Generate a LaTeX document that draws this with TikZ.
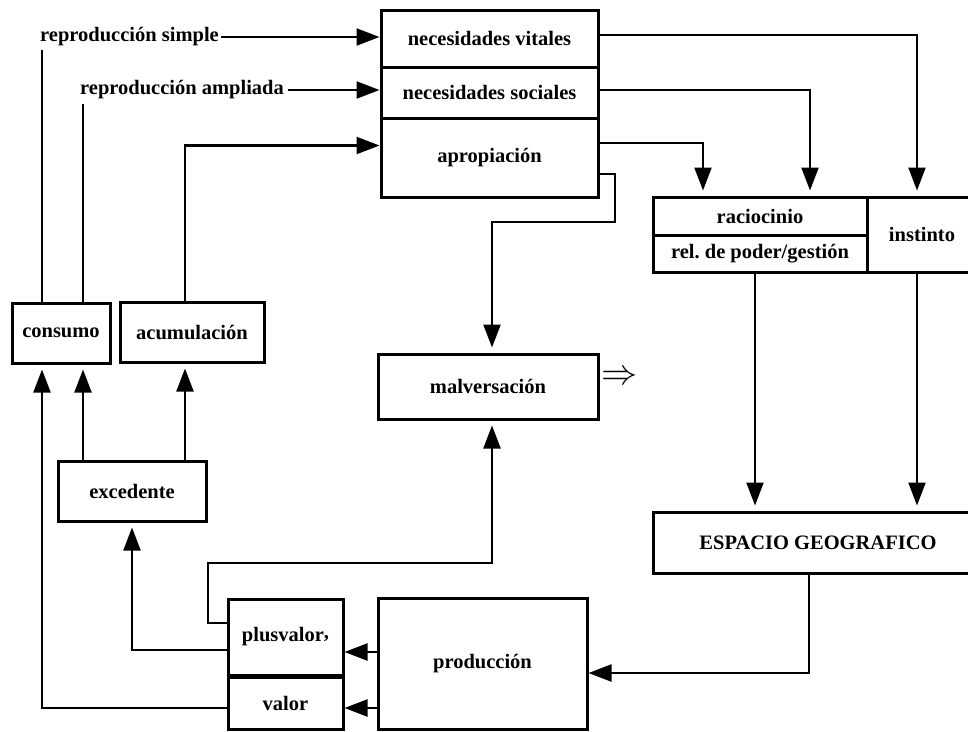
\documentclass[tikz,border=0pt]{standalone}
\usepackage{fontspec}
\usepackage{graphicx}
\setmainfont{Liberation Serif}
\usetikzlibrary{arrows.meta}
\begin{document}
\begin{tikzpicture}[x=1pt,y=-1pt,
  box/.style={draw,line width=3pt,inner sep=0pt,font=\bfseries\fontsize{20.5}{23}\selectfont},
  lbl/.style={inner sep=0pt,font=\bfseries\fontsize{20.5}{23}\selectfont},
  ln/.style={line width=2.2pt},
  arr/.style={line width=2.2pt,-{Triangle[length=23pt,width=17pt]}},
  varr/.style={arr,shorten >=5pt}]
\useasboundingbox (0,0) rectangle (968,731);
\clip (0,0) rectangle (968,731);
% top stack
\node[box,minimum width=217pt,minimum height=57pt] (nv) at (489.5,38.5) {necesidades vitales};
\node[box,minimum width=217pt,minimum height=51pt] (ns) at (489.5,92.5) {necesidades sociales};
\node[box,minimum width=217pt,minimum height=79pt] (ap) at (489.5,157.5) {apropiación};
% right group
\node[box,minimum width=214pt,minimum height=38pt] (rac) at (760,216) {raciocinio};
\node[box,minimum width=214pt,minimum height=37pt] (rel) at (760,253.5) {rel.\ de poder/gestión};
\node[box,minimum width=110pt,minimum height=75pt] (ins) at (922,234.5) {instinto};
\node[box,minimum width=330pt,minimum height=61pt] (esp) at (818,542.5) {ESPACIO GEOGRAFICO};
% middle
\node[box,minimum width=220pt,minimum height=65pt] (malv) at (488,386.5) {malversación};
\node[inner sep=0pt,font=\fontsize{24}{26}\selectfont] (impl) at (620,378) {\scalebox{1.45}{$\Rightarrow$}};
% left
\node[box,minimum width=98pt,minimum height=60pt] (cons) at (61,333) {consumo};
\node[box,minimum width=144pt,minimum height=60pt] (acum) at (192,332) {acumulación};
\node[box,minimum width=148pt,minimum height=60pt] (exc) at (132,491) {excedente};
% bottom
\node[box,minimum width=115pt,minimum height=76pt] (plus) at (285.5,637) {plusvalor\raisebox{0.35ex}{,}};
\node[box,minimum width=115pt,minimum height=52pt] (val) at (285.5,703) {valor};
\node[box,minimum width=209pt,minimum height=131pt] (prod) at (482.5,663.5) {producción};
% labels
\node[lbl,anchor=west] (rs) at (40,37) {reproducción simple};
\node[lbl,anchor=west] (ra) at (80,90) {reproducción ampliada};
\coordinate (rsfoot) at (42,50);
\coordinate (rafoot) at (83,104);
\coordinate (mk) at (208,563);
\coordinate (mk2) at (615,222);
% connectors to top stack
\draw[arr] ([xshift=2pt]rs.east) -- (rs.east -| nv.west);
\draw[arr] ([xshift=4pt]ra.east) -- (ra.east -| ns.west);
\draw[arr] ([xshift=-7pt]acum.north) |- ([yshift=12pt]ap.west);
\draw[ln] (rsfoot) -- (rsfoot |- cons.north);
\draw[ln] (rafoot) -- (rafoot |- cons.north);
% excedente up
\draw[varr] ([xshift=-49pt]exc.north) -- ([xshift=-49pt]exc.north |- cons.south);
\draw[varr] ([xshift=53pt]exc.north) -- ([xshift=53pt]exc.north |- acum.south);
% valor/plusvalor left
\draw[varr] ([yshift=-5pt]val.west) -| ([xshift=-19pt]cons.south);
\draw[varr] ([yshift=-13pt]plus.west) -| (exc.south);
\draw[varr] ([yshift=14pt]plus.west) -| (mk) -| ([xshift=4pt]malv.south);
% apropiacion to malversacion
\draw[varr] ([yshift=-16.5pt]ap.east) -| (mk2) -| ([xshift=4pt]malv.north);
% top stack to right group
\draw[varr] ([yshift=3.5pt]nv.east) -| ([xshift=-5pt]ins.north);
\draw[varr] ([yshift=2.5pt]ns.east) -| ([xshift=50pt]rac.north);
\draw[varr] ([yshift=14.5pt]ap.east) -| ([xshift=-57pt]rac.north);
% right group to espacio
\draw[varr] ([xshift=-5pt]rel.south) -- ([xshift=-5pt]rel.south |- esp.north);
\draw[varr] ([xshift=-5pt]ins.south) -- ([xshift=-5pt]ins.south |- esp.north);
% espacio to produccion
\draw[arr] ([xshift=-9pt]esp.south) |- ([yshift=-9.5pt]prod.east);
% produccion to plusvalor / valor
\path ([yshift=-15pt]plus.east) coordinate (pa);
\path ([yshift=-5pt]val.east) coordinate (pb);
\draw[arr] (pa -| prod.west) -- (pa);
\draw[arr] (pb -| prod.west) -- (pb);
\end{tikzpicture}
\end{document}
